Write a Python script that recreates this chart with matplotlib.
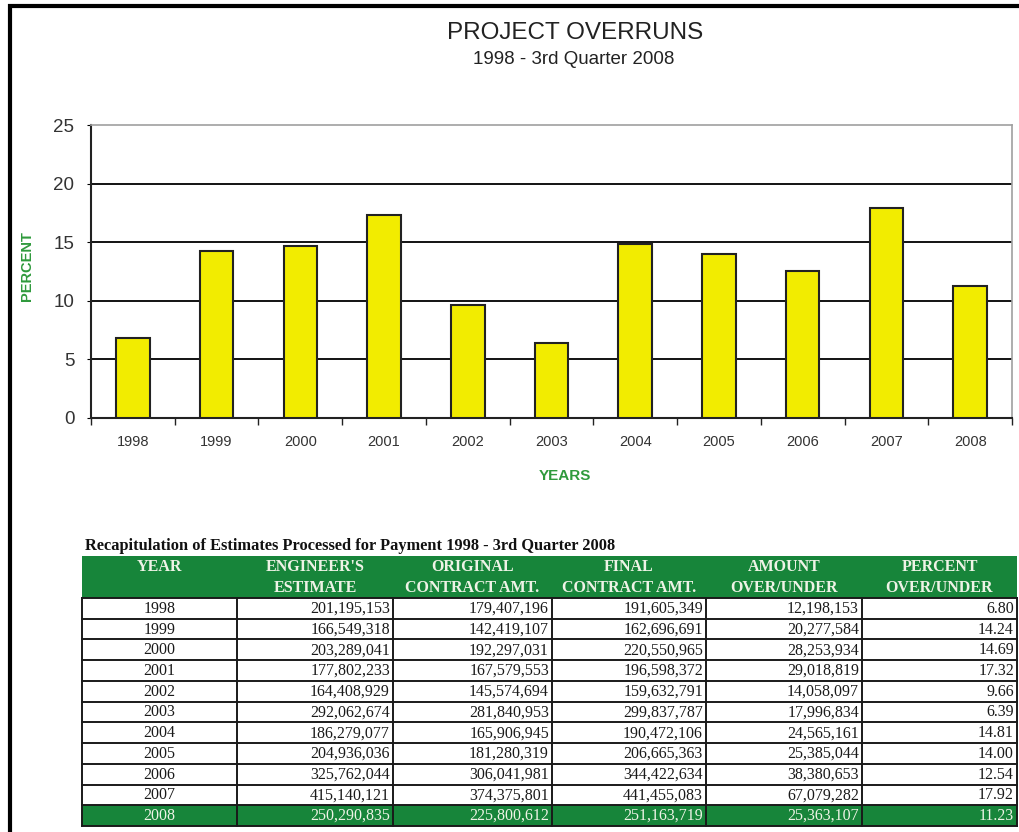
import matplotlib
matplotlib.use('Agg')
import matplotlib.pyplot as plt
from matplotlib.patches import Rectangle

plt.rcParams['font.family'] = ['Liberation Sans', 'DejaVu Sans']

years = ['1998', '1999', '2000', '2001', '2002', '2003',
         '2004', '2005', '2006', '2007', '2008']
engineers_estimate = [201195153, 166549318, 203289041, 177802233, 164408929, 292062674,
                      186279077, 204936036, 325762044, 415140121, 250290835]
original_contract = [179407196, 142419107, 192297031, 167579553, 145574694, 281840953,
                     165906945, 181280319, 306041981, 374375801, 225800612]
final_contract = [191605349, 162696691, 220550965, 196598372, 159632791, 299837787,
                  190472106, 206665363, 344422634, 441455083, 251163719]
amount_over_under = [12198153, 20277584, 28253934, 29018819, 14058097, 17996834,
                     24565161, 25385044, 38380653, 67079282, 25363107]
percent_over_under = [6.80, 14.24, 14.69, 17.32, 9.66, 6.39,
                      14.81, 14.00, 12.54, 17.92, 11.23]

headers = [('YEAR', ''), ("ENGINEER'S", 'ESTIMATE'), ('ORIGINAL', 'CONTRACT AMT.'),
           ('FINAL', 'CONTRACT AMT.'), ('AMOUNT', 'OVER/UNDER'), ('PERCENT', 'OVER/UNDER')]

W, H = 1019, 832
GREEN = '#17853a'
LABEL_GREEN = '#2f9a3c'

fig = plt.figure(figsize=(W / 100, H / 100), dpi=100)

# background layer in pixel coordinates (frame, titles, table)
bg = fig.add_axes([0, 0, 1, 1])
bg.set_xlim(0, W)
bg.set_ylim(H, 0)
bg.axis('off')

bg.plot([10, 10], [4, H], color='black', lw=3, solid_capstyle='butt')
bg.plot([8, W], [6, 6], color='black', lw=3, solid_capstyle='butt')

bg.text(575, 33, 'PROJECT OVERRUNS', ha='center', va='center', fontsize=17.5, color='#222')
bg.text(574, 60, '1998 - 3rd Quarter 2008', ha='center', va='center', fontsize=13.5, color='#222')
bg.text(27, 266, 'PERCENT', rotation=90, ha='center', va='center',
        fontsize=10.5, fontweight='bold', color=LABEL_GREEN)
bg.text(565, 476, 'YEARS', ha='center', va='center',
        fontsize=11, fontweight='bold', color=LABEL_GREEN)

# bar chart
ax = fig.add_axes([91 / W, 1 - 418 / H, (1012 - 91) / W, (418 - 125) / H])
x = list(range(len(years)))
ax.bar(x, percent_over_under, width=0.4, color='#f2ec00', edgecolor='#222',
       linewidth=1.5, zorder=3)
ax.set_xlim(-0.5, len(years) - 0.5)
ax.set_ylim(0, 25)
ax.set_yticks([0, 5, 10, 15, 20, 25])
for yv in ax.get_yticks()[1:-1]:
    ax.axhline(yv, color='black', lw=1.3, zorder=1)

ax.set_xticks([i - 0.5 for i in range(len(years) + 1)])
ax.set_xticklabels([])
ax.set_xticks(x, minor=True)
ax.set_xticklabels(years, minor=True)
ax.tick_params(axis='x', which='major', length=5, width=1, color='#222', direction='out')
ax.tick_params(axis='x', which='minor', length=0, pad=12, labelsize=10.5, labelcolor='#333')
ax.tick_params(axis='y', length=3, pad=9, labelsize=13.5, labelcolor='#333')

for side in ['left', 'bottom']:
    ax.spines[side].set_color('#222')
    ax.spines[side].set_linewidth(1.5)
for side in ['top', 'right']:
    ax.spines[side].set_color('#a0a0a0')
    ax.spines[side].set_linewidth(1.2)

# table
serif = ['Liberation Serif', 'DejaVu Serif']
col_edges = [82, 237, 393, 552, 706, 862, 1017]
head_top, head_bot = 556, 598
row_h = (826 - head_bot) / len(years)

bg.text(85, 546, 'Recapitulation of Estimates Processed for Payment 1998 - 3rd Quarter 2008',
        ha='left', va='center', fontsize=11.8, fontweight='bold', family=serif, color='#111')

bg.add_patch(Rectangle((col_edges[0], head_top), col_edges[-1] - col_edges[0],
                       head_bot - head_top, facecolor=GREEN, edgecolor='none'))
for c, (l1, l2) in enumerate(headers):
    cx = (col_edges[c] + col_edges[c + 1]) / 2
    bg.text(cx, 567, l1, ha='center', va='center', fontsize=11.5, fontweight='bold',
            family=serif, color='#eef3e6')
    if l2:
        bg.text(cx, 588, l2, ha='center', va='center', fontsize=11.5, fontweight='bold',
                family=serif, color='#eef3e6')

columns = [engineers_estimate, original_contract, final_contract, amount_over_under]
n = len(years)
for i in range(n):
    y0 = head_bot + i * row_h
    last = i == n - 1
    tc = '#eef3e6' if last else '#1a1a1a'
    if last:
        bg.add_patch(Rectangle((col_edges[0], y0), col_edges[-1] - col_edges[0], row_h,
                               facecolor=GREEN, edgecolor='none'))
    yc = y0 + row_h / 2 + 0.5
    bg.text((col_edges[0] + col_edges[1]) / 2, yc, years[i], ha='center', va='center',
            fontsize=11.5, family=serif, color=tc)
    for c, col in enumerate(columns):
        bg.text(col_edges[c + 2] - 3, yc, f'{col[i]:,}', ha='right', va='center',
                fontsize=11.5, family=serif, color=tc)
    bg.text(col_edges[-1] - 3, yc, f'{percent_over_under[i]:.2f}', ha='right', va='center',
            fontsize=11.5, family=serif, color=tc)

for i in range(n + 1):
    yy = head_bot + i * row_h
    bg.plot([col_edges[0], col_edges[-1]], [yy, yy], color='#1a1a1a', lw=1.4)
for xe in col_edges:
    bg.plot([xe, xe], [head_bot, head_bot + n * row_h], color='#1a1a1a', lw=1.4)

fig.savefig('out.png', dpi=100)
